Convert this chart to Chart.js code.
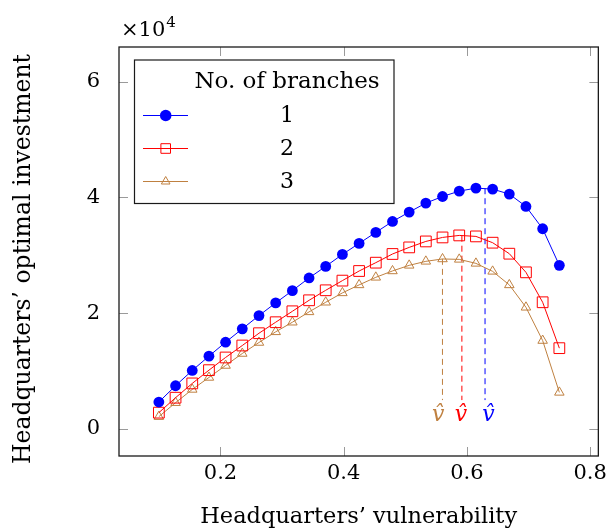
<!DOCTYPE html>
<html>
<head>
<meta charset="utf-8">
<script src="https://cdn.jsdelivr.net/npm/chart.js@4"></script>
<style>
html,body{margin:0;padding:0;background:#fff;}
#wrap{width:612px;height:531px;position:relative;}
</style>
</head>
<body>
<div id="wrap"><canvas id="c" width="612" height="531"></canvas></div>
<script>
// ---- data ----
const vulnerability = [0.1, 0.1271, 0.1542, 0.1813, 0.2083, 0.2354, 0.2625, 0.2896, 0.3167, 0.3438, 0.3708, 0.3979, 0.425, 0.4521, 0.4792, 0.5063, 0.5333, 0.5604, 0.5875, 0.6146, 0.6417, 0.6688, 0.6958, 0.7229, 0.75];
const branches1 = [0.466, 0.748, 1.012, 1.259, 1.50, 1.731, 1.96, 2.179, 2.391, 2.61, 2.81, 3.017, 3.207, 3.397, 3.586, 3.748, 3.903, 4.017, 4.11, 4.162, 4.145, 4.059, 3.845, 3.46, 2.828];
const branches2 = [0.283, 0.541, 0.788, 1.017, 1.236, 1.443, 1.655, 1.845, 2.034, 2.224, 2.397, 2.564, 2.73, 2.874, 3.024, 3.138, 3.241, 3.31, 3.345, 3.328, 3.219, 3.029, 2.707, 2.19, 1.397];
const branches3 = [0.214, 0.455, 0.684, 0.891, 1.098, 1.305, 1.495, 1.679, 1.845, 2.024, 2.19, 2.352, 2.49, 2.621, 2.731, 2.828, 2.897, 2.938, 2.931, 2.862, 2.724, 2.49, 2.103, 1.529, 0.633];
const seriesNames = ['1', '2', '3'];
const legendTitle = 'No. of branches';
const xTicks = [0.2, 0.4, 0.6, 0.8];
const yTicks = [0, 2, 4, 6];
const xLabel = 'Headquarters\u2019 vulnerability';
const yLabel = 'Headquarters\u2019 optimal investment';
const yMultiplier = '\u00d710';
const yExponent = '4';
// optimal points v-hat (x position, peak value)
const vhatX = [0.6294, 0.5918, 0.5603];
const vhatPeak = [4.16, 3.34, 2.94];
const vhatBottom = 0.5;
const vhatLabelX = [0.635, 0.5903, 0.5532];
const vhatLabelY = 0.24;
const vhatText = 'v\u0302';

const colors = ['#0000ff', '#ff0000', '#bf8040'];
const FONT = '"DejaVu Serif", serif';

const mk = (ys) => vulnerability.map((x, i) => ({x: x, y: ys[i]}));
const seriesData = [branches1, branches2, branches3];
const styles = [
  {pointStyle: 'circle', pointRadius: 5.4, bg: colors[0], bw: 0},
  {pointStyle: 'rect', pointRadius: 7.6, bg: 'rgba(0,0,0,0)', bw: 1},
  {pointStyle: 'triangle', pointRadius: 5.5, bg: 'rgba(0,0,0,0)', bw: 1}
];

const datasets = [];
for (let i = 0; i < 3; i++) {
  datasets.push({
    label: 'vhat' + i,
    data: [{x: vhatX[i], y: vhatPeak[i]}, {x: vhatX[i], y: vhatBottom}],
    borderColor: colors[i],
    borderWidth: 1,
    borderDash: [6, 4],
    pointRadius: 0,
    fill: false,
    order: 5
  });
}
for (let i = 0; i < 3; i++) {
  datasets.push({
    label: seriesNames[i],
    data: mk(seriesData[i]),
    borderColor: colors[i],
    backgroundColor: styles[i].bg,
    pointBackgroundColor: styles[i].bg,
    pointBorderColor: colors[i],
    pointBorderWidth: styles[i].bw,
    pointStyle: styles[i].pointStyle,
    pointRadius: styles[i].pointRadius,
    borderWidth: 1,
    tension: 0,
    fill: false,
    order: 1
  });
}

const framePlugin = {
  id: 'frame',
  afterDraw(chart) {
    const ctx = chart.ctx;
    const a = chart.chartArea;
    const xs = chart.scales.x, ys = chart.scales.y;
    ctx.save();
    // inner ticks
    ctx.strokeStyle = '#9a9a9a';
    ctx.lineWidth = 1;
    const tl = 9;
    xTicks.forEach(v => {
      const px = Math.round(xs.getPixelForValue(v)) + 0.5;
      ctx.beginPath();
      ctx.moveTo(px, a.bottom); ctx.lineTo(px, a.bottom - tl);
      ctx.moveTo(px, a.top); ctx.lineTo(px, a.top + tl);
      ctx.stroke();
    });
    yTicks.forEach(v => {
      const py = Math.round(ys.getPixelForValue(v)) + 0.5;
      ctx.beginPath();
      ctx.moveTo(a.left, py); ctx.lineTo(a.left + tl, py);
      ctx.moveTo(a.right, py); ctx.lineTo(a.right - tl, py);
      ctx.stroke();
    });
    // frame
    ctx.strokeStyle = '#1a1a1a';
    ctx.lineWidth = 1.3;
    ctx.strokeRect(a.left, a.top, a.right - a.left, a.bottom - a.top);

    // y axis title
    ctx.save();
    ctx.fillStyle = '#000';
    ctx.font = '23.5px ' + FONT;
    ctx.textAlign = 'center';
    ctx.textBaseline = 'middle';
    ctx.translate(24, 259);
    ctx.rotate(-Math.PI / 2);
    ctx.fillText(yLabel, 0, 0);
    ctx.restore();

    // multiplier
    ctx.fillStyle = '#000';
    ctx.font = '21px ' + FONT;
    ctx.textBaseline = 'alphabetic';
    ctx.textAlign = 'left';
    const mx = 121, my = 36;
    ctx.fillText(yMultiplier, mx, my);
    const mw = ctx.measureText(yMultiplier).width;
    ctx.font = '15px ' + FONT;
    ctx.fillText(yExponent, mx + mw + 1, my - 9);

    // v-hat labels
    ctx.font = 'italic 22px ' + FONT;
    ctx.textAlign = 'center';
    ctx.textBaseline = 'middle';
    for (let i = 0; i < 3; i++) {
      ctx.fillStyle = colors[i];
      ctx.fillText(vhatText, xs.getPixelForValue(vhatLabelX[i]), ys.getPixelForValue(vhatLabelY));
    }

    // legend
    const L = {x0: 134.5, y0: 60, x1: 394, y1: 203.5};
    ctx.fillStyle = '#fff';
    ctx.fillRect(L.x0, L.y0, L.x1 - L.x0, L.y1 - L.y0);
    ctx.strokeStyle = '#1a1a1a';
    ctx.lineWidth = 1.2;
    ctx.strokeRect(L.x0, L.y0, L.x1 - L.x0, L.y1 - L.y0);
    ctx.fillStyle = '#000';
    ctx.font = '23px ' + FONT;
    ctx.textAlign = 'center';
    ctx.textBaseline = 'middle';
    ctx.fillText(legendTitle, 287, 82);
    ctx.font = '22px ' + FONT;
    const rows = [115, 148, 181];
    for (let i = 0; i < 3; i++) {
      const ry = rows[i];
      ctx.strokeStyle = colors[i];
      ctx.lineWidth = 1;
      ctx.beginPath();
      ctx.moveTo(143, ry + 0.5); ctx.lineTo(188, ry + 0.5);
      ctx.stroke();
      ctx.fillStyle = styles[i].bg;
      ctx.strokeStyle = colors[i];
      ctx.lineWidth = styles[i].bw;
      const lr = i === 0 ? 5.8 : (i === 1 ? 6.8 : 5);
      Chart.helpers.drawPoint(ctx, {pointStyle: styles[i].pointStyle, radius: lr, borderWidth: styles[i].bw, rotation: 0}, 165.7, ry + 0.5);
      ctx.fillStyle = '#000';
      ctx.fillText(seriesNames[i], 287, ry + 1);
    }
    ctx.restore();
  }
};

new Chart(document.getElementById('c'), {
  type: 'line',
  data: {datasets: datasets},
  options: {
    responsive: false,
    animation: false,
    layout: {padding: {top: 47, right: 8, left: 0, bottom: 0}},
    plugins: {legend: {display: false}, tooltip: {enabled: false}},
    scales: {
      x: {
        type: 'linear',
        min: 0.0353, max: 0.8133,
        afterBuildTicks: s => { s.ticks = xTicks.map(v => ({value: v})); },
        afterFit: s => { s.height = 75; },
        grid: {display: false, drawTicks: false},
        border: {display: false},
        ticks: {
          padding: 5,
          color: '#000',
          font: {family: FONT, size: 21},
          maxRotation: 0,
          callback: v => v.toFixed(1)
        },
        title: {display: true, text: xLabel, color: '#000', font: {family: FONT, size: 22.5}, padding: {top: 0, bottom: 0}}
      },
      y: {
        type: 'linear',
        min: -0.466, max: 6.6,
        afterBuildTicks: s => { s.ticks = yTicks.map(v => ({value: v})); },
        afterFit: s => { s.width = 119; },
        grid: {display: false, drawTicks: false},
        border: {display: false},
        ticks: {
          padding: 19,
          color: '#000',
          font: {family: FONT, size: 21},
          callback: v => String(v)
        },
        title: {display: false}
      }
    }
  },
  plugins: [framePlugin]
});
</script>
</body>
</html>
